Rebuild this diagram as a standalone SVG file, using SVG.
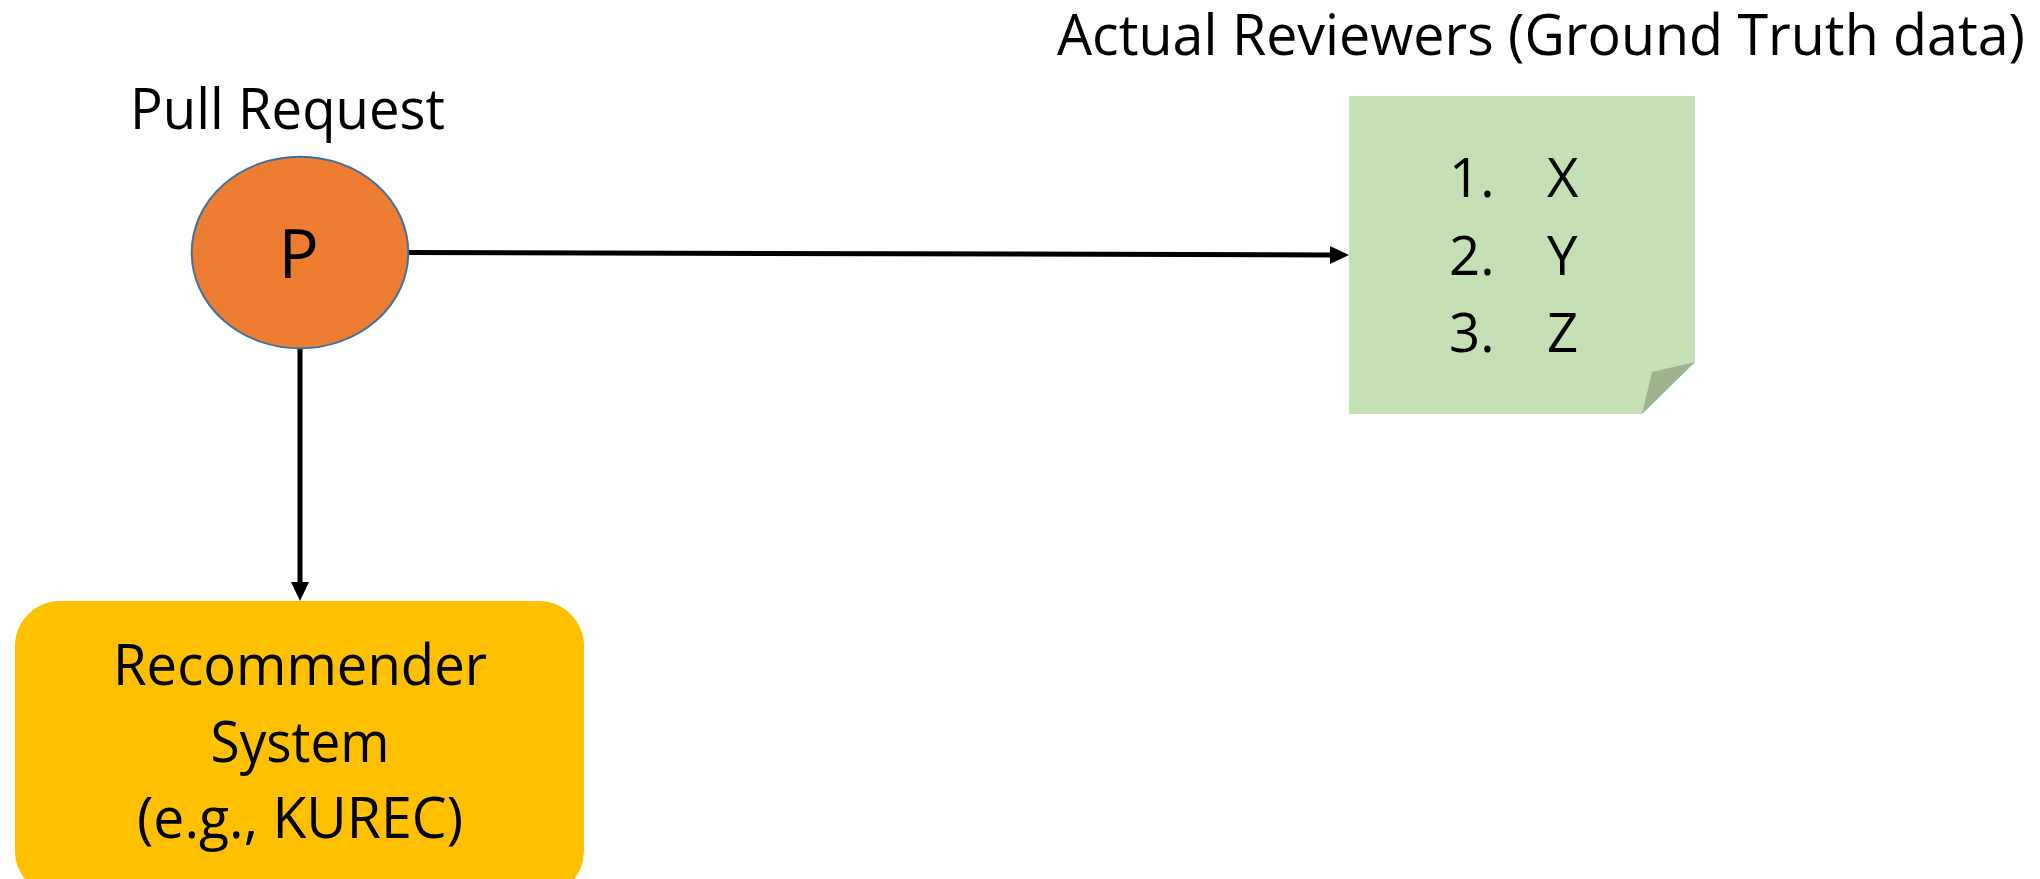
<svg xmlns="http://www.w3.org/2000/svg" width="2040" height="879" viewBox="0 0 2040 879">
  <style>
    .lbl { font-family: "Open Sans", "Liberation Sans", sans-serif; fill: #000000; }
    .edge { stroke: #000000; stroke-width: 5; fill: none; }
  </style>
  <defs>
    <!-- arrowhead drawn past the line end so the stroke does not blunt the tip -->
    <marker id="arrow" markerUnits="userSpaceOnUse" markerWidth="19" markerHeight="18" viewBox="0 0 19 18" refX="0" refY="9" orient="auto" overflow="visible">
      <path d="M0,0 L19,9 L0,18 Z" fill="#000000"/>
    </marker>
  </defs>
  <rect width="2040" height="879" fill="#ffffff"/>

  <!-- Connectors -->
  <g id="connectors">
    <line class="edge" x1="408" y1="252.5" x2="1330" y2="254.9" marker-end="url(#arrow)"/>
    <line class="edge" x1="300" y1="349" x2="300" y2="582" marker-end="url(#arrow)"/>
  </g>

  <!-- Pull request node -->
  <g id="pull-request">
    <text class="lbl" x="130" y="129" font-size="57" textLength="315" lengthAdjust="spacingAndGlyphs">Pull Request</text>
    <ellipse cx="300" cy="252.5" rx="108.3" ry="95.8" fill="#ED7D31" stroke="#41719C" stroke-width="2"/>
    <text class="lbl" x="278.5" y="278" font-size="67">P</text>
  </g>

  <!-- Ground truth note -->
  <g id="ground-truth">
    <text class="lbl" x="1057" y="55" font-size="56.5" textLength="968" lengthAdjust="spacingAndGlyphs">Actual Reviewers (Ground Truth data)</text>
    <polygon points="1349,96 1695,96 1695,362 1642,414 1349,414" fill="#C5E0B4"/>
    <polygon points="1695,362 1652,372 1642,414" fill="#9DB48F"/>
    <g class="lbl" font-size="54.5">
      <text x="1449" y="197">1.</text>
      <text x="1547" y="197">X</text>
      <text x="1449" y="275">2.</text>
      <text x="1547" y="275">Y</text>
      <text x="1449" y="352">3.</text>
      <text x="1547" y="352">Z</text>
    </g>
  </g>

  <!-- Recommender system node -->
  <g id="recommender">
    <rect x="15" y="601" width="569" height="295" rx="45" ry="45" fill="#FFC000"/>
    <g class="lbl" font-size="56" text-anchor="middle">
      <text x="300" y="685" textLength="374" lengthAdjust="spacingAndGlyphs">Recommender</text>
      <text x="300" y="762" textLength="179" lengthAdjust="spacingAndGlyphs">System</text>
      <text x="300" y="838" textLength="326" lengthAdjust="spacingAndGlyphs">(e.g., KUREC)</text>
    </g>
  </g>
</svg>
